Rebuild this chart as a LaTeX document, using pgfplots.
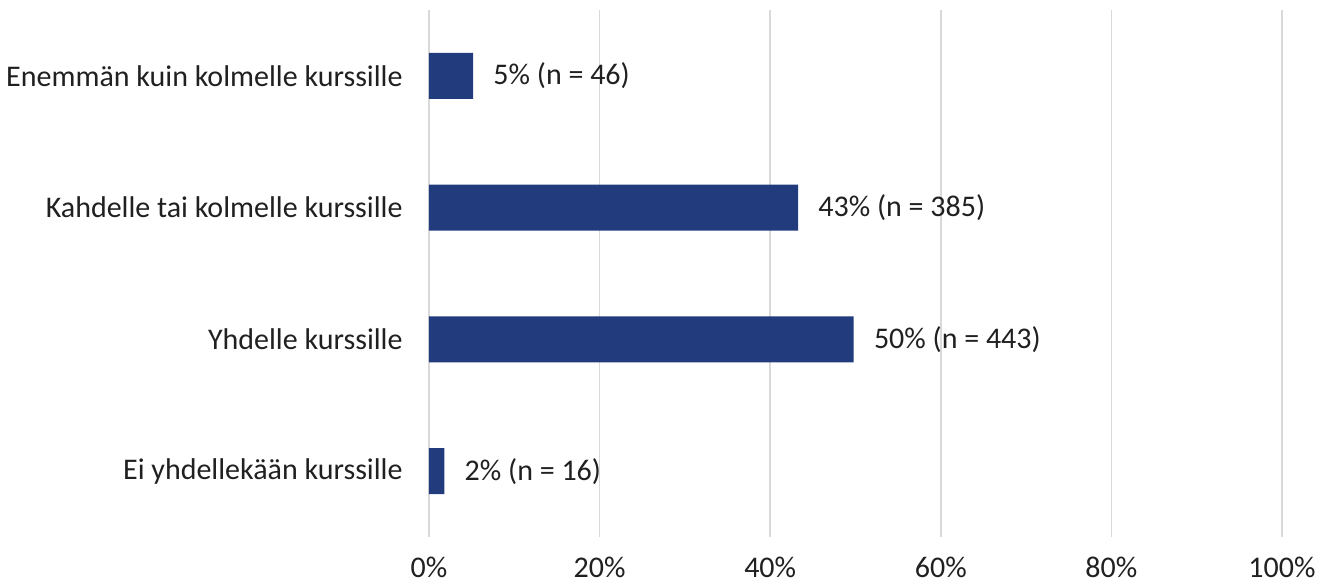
\documentclass[border=0pt]{standalone}
\usepackage{pgfplots}
\pgfplotsset{compat=1.18}
\usepackage{pgfplotstable}
\usepackage{fontspec}
\setmainfont{Carlito}
\definecolor{barblue}{RGB}{33,59,125}
\definecolor{gridgray}{RGB}{217,217,217}
\definecolor{txt}{RGB}{32,32,32}
\pgfplotstableread[col sep=comma]{
y,val,lab
0,1.80,2\% (n = 16)
1,49.78,50\% (n = 443)
2,43.26,43\% (n = 385)
3,5.17,5\% (n = 46)
}\datatable
\begin{document}
\fontsize{15pt}{18pt}\selectfont
\begin{tikzpicture}
\path[use as bounding box] (-214.5pt,-25.5pt) rectangle (452pt,268.5pt);
\begin{axis}[
  at={(0,0)}, anchor=south west,
  scale only axis,
  width=426.5pt, height=263.5pt,
  xmin=0, xmax=100,
  ymin=-0.5, ymax=3.5,
  xbar, bar width=23pt,
  axis line style={draw=none},
  xtick={0,20,40,60,80,100},
  xticklabels={0\%,20\%,40\%,60\%,80\%,100\%},
  ytick={0,1,2,3},
  yticklabels={Ei yhdellekään kurssille,Yhdelle kurssille,Kahdelle tai kolmelle kurssille,Enemmän kuin kolmelle kurssille},
  major tick length=0pt,
  xmajorgrids, grid style={gridgray, line width=0.75pt},
  ymajorgrids=false,
  tick label style={font=\fontsize{15pt}{18pt}\selectfont, text=txt},
  xticklabel style={yshift=-5pt},
  yticklabel style={xshift=-8pt},
  point meta=explicit symbolic,
  nodes near coords,
  nodes near coords style={anchor=west, xshift=5pt, font=\fontsize{15pt}{18pt}\selectfont, text=txt},
]
\addplot[fill=barblue, draw=none] table[x=val, y=y, meta=lab, col sep=comma] {\datatable};
\end{axis}
\end{tikzpicture}
\end{document}
